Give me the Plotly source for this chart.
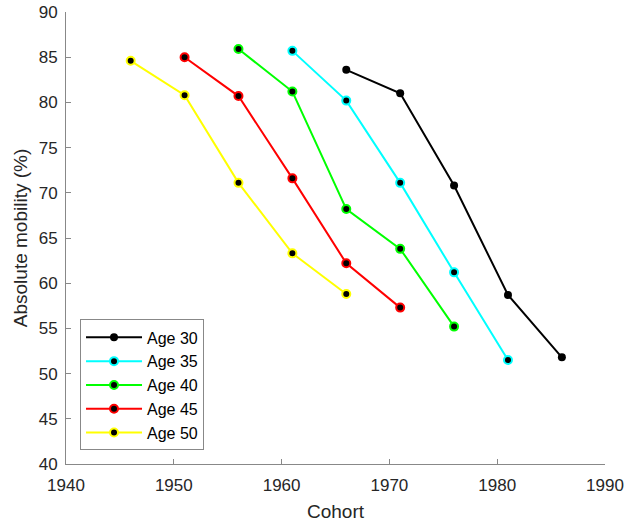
import plotly.graph_objects as go

series_names = ["Age 30", "Age 35", "Age 40", "Age 45", "Age 50"]
colors = ["#000000", "#00FFFF", "#00FF00", "#FF0000", "#FFFF00"]
cohorts = [
    [1966, 1971, 1976, 1981, 1986],
    [1961, 1966, 1971, 1976, 1981],
    [1956, 1961, 1966, 1971, 1976],
    [1951, 1956, 1961, 1966, 1971],
    [1946, 1951, 1956, 1961, 1966],
]
mobility = [
    [83.6, 81.0, 70.8, 58.7, 51.8],
    [85.7, 80.2, 71.1, 61.2, 51.5],
    [85.9, 81.2, 68.2, 63.8, 55.2],
    [85.0, 80.7, 71.6, 62.2, 57.3],
    [84.6, 80.8, 71.1, 63.3, 58.8],
]
x_ticks = [1940, 1950, 1960, 1970, 1980, 1990]
y_ticks = [40, 45, 50, 55, 60, 65, 70, 75, 80, 85, 90]

FONT = "Liberation Sans, Arial"
TXT = "#262626"

fig = go.Figure()
for name, col, xs, ys in zip(series_names, colors, cohorts, mobility):
    if col == "#000000":
        marker = dict(size=8, color="black", line=dict(width=0))
    else:
        marker = dict(size=8, color="black", line=dict(width=2, color=col))
    fig.add_trace(go.Scatter(
        x=xs, y=ys, name=name, mode="lines+markers",
        line=dict(color=col, width=2), marker=marker,
    ))

axis_common = dict(
    showgrid=False, zeroline=False, showline=True, linecolor="#888888",
    linewidth=1, ticks="inside", ticklen=5, tickcolor="#888888",
    tickfont=dict(family=FONT, size=17, color=TXT),
    mirror=False, automargin=False,
)
fig.update_xaxes(range=[1940, 1990], tickvals=x_ticks, ticklabelstandoff=6,
                 title=dict(text="Cohort", font=dict(family=FONT, size=19, color=TXT), standoff=10),
                 **axis_common)
fig.update_yaxes(range=[40, 90], tickvals=y_ticks, ticklabelstandoff=4,
                 title=dict(text="Absolute mobility (%)", font=dict(family=FONT, size=19, color=TXT), standoff=6),
                 **axis_common)

fig.update_layout(
    width=626, height=527,
    margin=dict(l=66, r=21, t=12, b=63),
    plot_bgcolor="white", paper_bgcolor="white",
    legend=dict(
        x=0.026, y=0.03, xanchor="left", yanchor="bottom",
        bordercolor="#888888", borderwidth=1, bgcolor="white",
        font=dict(family=FONT, size=16, color="black"),
        itemwidth=56, tracegroupgap=0,
    ),
    showlegend=True,
)

fig.write_html("out.html")
